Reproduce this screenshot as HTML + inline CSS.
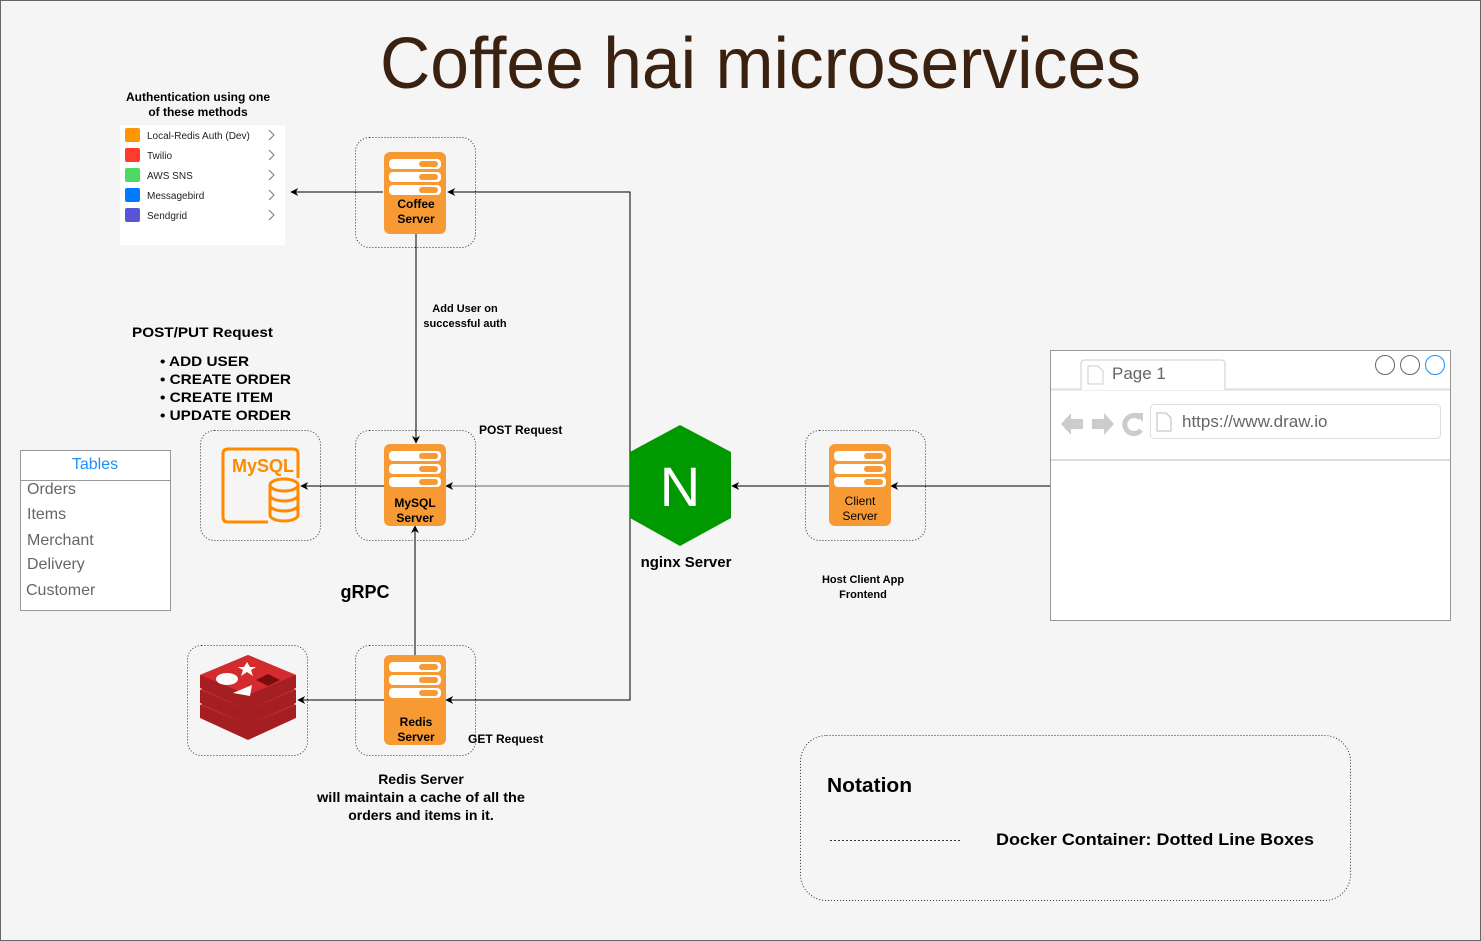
<!DOCTYPE html>
<html><head><meta charset="utf-8"><style>
html,body{margin:0;padding:0;background:#f5f5f5}
svg{display:block;font-family:"Liberation Sans",Arial,sans-serif}
</style></head><body>
<svg width="1481" height="941" viewBox="0 0 1481 941" xmlns="http://www.w3.org/2000/svg">
<defs>
<marker id="ar" viewBox="0 0 10 10" refX="9" refY="5" markerWidth="8" markerHeight="8" orient="auto-start-reverse" markerUnits="userSpaceOnUse">
<path d="M0,0 L10,5 L0,10 L3,5 z" fill="#000"/>
</marker>
<g id="bars">
<rect x="5" y="7" width="52" height="10" rx="4" fill="#fff"/>
<rect x="5" y="20" width="52" height="10" rx="4" fill="#fff"/>
<rect x="5" y="33" width="52" height="10" rx="4" fill="#fff"/>
<rect x="35" y="9" width="19" height="6" rx="3" fill="#F89A33"/>
<rect x="35" y="22" width="19" height="6" rx="3" fill="#F89A33"/>
<rect x="35" y="35" width="19" height="6" rx="3" fill="#F89A33"/>
</g>
<g id="srv">
<rect x="0" y="0" width="62" height="82" rx="6" fill="#F89A33"/>
<use href="#bars"/>
</g>
<g id="srvT">
<rect x="0" y="0" width="62" height="90" rx="6" fill="#F89A33"/>
<use href="#bars"/>
</g>
</defs>
<rect x="0.5" y="0.5" width="1480" height="940" fill="#f5f5f5" stroke="#666"/>

<text x="380" y="88" font-size="72" fill="#3B2210" textLength="761" lengthAdjust="spacingAndGlyphs">Coffee hai microservices</text>

<!-- auth list -->
<text x="198" y="101" font-size="12" font-weight="bold" text-anchor="middle">Authentication using one</text>
<text x="198" y="116" font-size="12" font-weight="bold" text-anchor="middle">of these methods</text>
<rect x="120" y="125" width="165" height="120" fill="#fff"/>
<g font-size="10" fill="#222">
<rect x="125" y="128" width="15" height="14" rx="2" fill="#FF9500"/><text x="147" y="139">Local-Redis Auth (Dev)</text>
<rect x="125" y="148" width="15" height="14" rx="2" fill="#FF3B30"/><text x="147" y="159">Twilio</text>
<rect x="125" y="168" width="15" height="14" rx="2" fill="#4CD964"/><text x="147" y="179">AWS SNS</text>
<rect x="125" y="188" width="15" height="14" rx="2" fill="#007AFF"/><text x="147" y="199">Messagebird</text>
<rect x="125" y="208" width="15" height="14" rx="2" fill="#5856D6"/><text x="147" y="219">Sendgrid</text>
</g>
<g stroke="#777" fill="none" stroke-width="1">
<path d="M269,130 l5,5 l-5,5"/><path d="M269,150 l5,5 l-5,5"/><path d="M269,170 l5,5 l-5,5"/><path d="M269,190 l5,5 l-5,5"/><path d="M269,210 l5,5 l-5,5"/>
</g>

<!-- dotted containers -->
<g fill="none" stroke="#333" stroke-dasharray="1,2" stroke-width="1">
<rect x="355.5" y="137.5" width="120" height="110" rx="14"/>
<rect x="355.5" y="430.5" width="120" height="110" rx="14"/>
<rect x="200.5" y="430.5" width="120" height="110" rx="14"/>
<rect x="187.5" y="645.5" width="120" height="110" rx="14"/>
<rect x="355.5" y="645.5" width="120" height="110" rx="14"/>
<rect x="805.5" y="430.5" width="120" height="110" rx="14"/>
<rect x="800.5" y="735.5" width="550" height="165" rx="26"/>
</g>

<!-- connectors -->
<g stroke="#000" stroke-width="1" fill="none">
<path d="M383,192 L291,192" marker-end="url(#ar)"/>
<path d="M630,486 L630,192 L448,192" marker-end="url(#ar)"/>
<path d="M630,486 L630,700 L446,700" marker-end="url(#ar)"/>
<path d="M630,486 L446,486" marker-end="url(#ar)" stroke="#666"/>
<path d="M416,232 L416,443" marker-end="url(#ar)"/>
<path d="M415,655 L415,526" marker-end="url(#ar)"/>
<path d="M385,486 L301,486" marker-end="url(#ar)"/>
<path d="M385,700 L298,700" marker-end="url(#ar)"/>
<path d="M830,486 L732,486" marker-end="url(#ar)"/>
<path d="M1050,486 L891,486" marker-end="url(#ar)"/>
</g>

<!-- servers -->
<use href="#srv" x="384" y="152"/>
<text x="416" y="208" font-size="12" font-weight="bold" text-anchor="middle">Coffee</text>
<text x="416" y="223" font-size="12" font-weight="bold" text-anchor="middle">Server</text>
<use href="#srv" x="384" y="444"/>
<text x="415" y="507" font-size="12" font-weight="bold" text-anchor="middle">MySQL</text>
<text x="415" y="522" font-size="12" font-weight="bold" text-anchor="middle">Server</text>
<use href="#srvT" x="384" y="655"/>
<text x="416" y="726" font-size="12" font-weight="bold" text-anchor="middle">Redis</text>
<text x="416" y="741" font-size="12" font-weight="bold" text-anchor="middle">Server</text>
<use href="#srv" x="829" y="444"/>
<text x="860" y="505" font-size="12" text-anchor="middle">Client</text>
<text x="860" y="520" font-size="12" text-anchor="middle">Server</text>

<!-- mysql icon -->
<g fill="none" stroke="#FF8A00" stroke-width="3">
<path d="M268,522 L228,522 Q223,522 223,517 L223,454 Q223,449 228,449 L293,449 Q298,449 298,454 L298,478"/>
<ellipse cx="284" cy="485" rx="14" ry="6"/>
<path d="M270,485 L270,515 A14,6 0 0 0 298,515 L298,485"/>
<path d="M270,495 A14,6 0 0 0 298,495"/>
<path d="M270,505 A14,6 0 0 0 298,505"/>
</g>
<text x="232" y="472" font-size="18" font-weight="bold" fill="#FF8A00">MySQL</text>

<!-- redis icon -->
<g>
<path d="M200,705 L248,685 L296,705 L296,718 L248,740 L200,718 Z" fill="#A41E22"/>
<path d="M200,705 L248,725 L296,705 L248,685 Z" fill="#C6282D"/>
<path d="M200,690 L248,670 L296,690 L296,703 L248,725 L200,703 Z" fill="#A41E22"/>
<path d="M200,690 L248,710 L296,690 L248,670 Z" fill="#C6282D"/>
<path d="M200,675 L248,655 L296,675 L296,688 L248,710 L200,688 Z" fill="#A41E22"/>
<path d="M200,675 L248,695 L296,675 L248,655 Z" fill="#D42B2F"/>
<ellipse cx="227" cy="679" rx="11" ry="6" fill="#fff"/>
<path d="M233,693 L252,685 L250,696 Z" fill="#fff"/>
<path d="M247,662 l3,5 l6,0 l-5,3 l2,6 l-6,-4 l-6,4 l2,-6 l-5,-3 l6,0 z" fill="#fff"/>
<path d="M256,680 L268,674 L280,680 L268,686 Z" fill="#7A0C0F"/>
</g>

<!-- nginx -->
<polygon points="680,425 731,452 731,518 680,546 630,518 630,452" fill="#009900"/>
<text x="680" y="506" font-size="56" fill="#fff" text-anchor="middle">N</text>
<text x="686" y="567" font-size="15" font-weight="bold" text-anchor="middle">nginx Server</text>

<!-- labels -->
<text x="465" y="312" font-size="11" font-weight="bold" text-anchor="middle">Add User on</text>
<text x="465" y="327" font-size="11" font-weight="bold" text-anchor="middle">successful auth</text>
<text x="479" y="434" font-size="12" font-weight="bold">POST Request</text>
<text x="468" y="743" font-size="12" font-weight="bold">GET Request</text>
<text x="863" y="583" font-size="11" font-weight="bold" text-anchor="middle">Host Client App</text>
<text x="863" y="598" font-size="11" font-weight="bold" text-anchor="middle">Frontend</text>
<text x="365" y="598" font-size="18" font-weight="bold" text-anchor="middle">gRPC</text>
<g font-size="14" font-weight="bold">
<text x="132" y="337" textLength="141" lengthAdjust="spacingAndGlyphs">POST/PUT Request</text>
<text x="160" y="366" textLength="89" lengthAdjust="spacingAndGlyphs">• ADD USER</text>
<text x="160" y="384" textLength="131" lengthAdjust="spacingAndGlyphs">• CREATE ORDER</text>
<text x="160" y="402" textLength="113" lengthAdjust="spacingAndGlyphs">• CREATE ITEM</text>
<text x="160" y="420" textLength="131" lengthAdjust="spacingAndGlyphs">• UPDATE ORDER</text>
</g>
<g font-size="14" font-weight="bold" text-anchor="middle">
<text x="421" y="784">Redis Server</text>
<text x="421" y="802" textLength="208" lengthAdjust="spacingAndGlyphs">will maintain a cache of all the</text>
<text x="421" y="820">orders and items in it.</text>
</g>

<!-- tables -->
<rect x="20.5" y="450.5" width="150" height="160" fill="#fff" stroke="#999"/>
<line x1="20" y1="480.5" x2="170" y2="480.5" stroke="#999"/>
<text x="95" y="469" font-size="16" fill="#1E8FFF" text-anchor="middle">Tables</text>
<g font-size="16" fill="#666">
<text x="27" y="494">Orders</text>
<text x="27" y="519">Items</text>
<text x="27" y="545">Merchant</text>
<text x="27" y="569">Delivery</text>
<text x="26" y="595">Customer</text>
</g>

<!-- browser -->
<rect x="1050.5" y="350.5" width="400" height="270" fill="#fff" stroke="#999"/>
<line x1="1051" y1="389.5" x2="1450" y2="389.5" stroke="#ddd" stroke-width="2"/>
<path d="M1081,390 L1081,364 Q1081,360 1085,360 L1221,360 Q1225,360 1225,364 L1225,390" fill="#fff" stroke="#ddd" stroke-width="1.5"/>
<path d="M1088,366 L1098,366 L1103,371 L1103,384 L1088,384 Z" fill="none" stroke="#ccc"/>
<text x="1112" y="379" font-size="17" fill="#666">Page 1</text>
<circle cx="1385" cy="365" r="9.5" fill="none" stroke="#666"/>
<circle cx="1410" cy="365" r="9.5" fill="none" stroke="#666"/>
<circle cx="1435" cy="365" r="9.5" fill="none" stroke="#1E8FFF"/>
<line x1="1051" y1="460" x2="1450" y2="460" stroke="#ddd" stroke-width="2"/>
<path d="M1061,424 L1071,413 L1071,419 L1083,419 L1083,429 L1071,429 L1071,435 Z" fill="#ccc"/>
<path d="M1114,424 L1104,413 L1104,419 L1092,419 L1092,429 L1104,429 L1104,435 Z" fill="#ccc"/>
<path d="M1140,418 A9,9 0 1 0 1141,430" fill="none" stroke="#ccc" stroke-width="5"/>
<path d="M1134,413 L1143,413 L1143,422 Z" fill="#ccc"/>
<rect x="1150.5" y="404.5" width="290" height="34" rx="4" fill="#fff" stroke="#ddd"/>
<path d="M1157,413 L1166,413 L1171,418 L1171,431 L1157,431 Z" fill="none" stroke="#bbb"/>
<text x="1182" y="427" font-size="17" fill="#666">https://www.draw.io</text>

<!-- notation -->
<text x="827" y="792" font-size="20" font-weight="bold" textLength="85" lengthAdjust="spacingAndGlyphs">Notation</text>
<line x1="830" y1="840.5" x2="960" y2="840.5" stroke="#333" stroke-dasharray="2,2"/>
<text x="996" y="845" font-size="17" font-weight="bold" textLength="318" lengthAdjust="spacingAndGlyphs">Docker Container: Dotted Line Boxes</text>
</svg>
</body></html>
